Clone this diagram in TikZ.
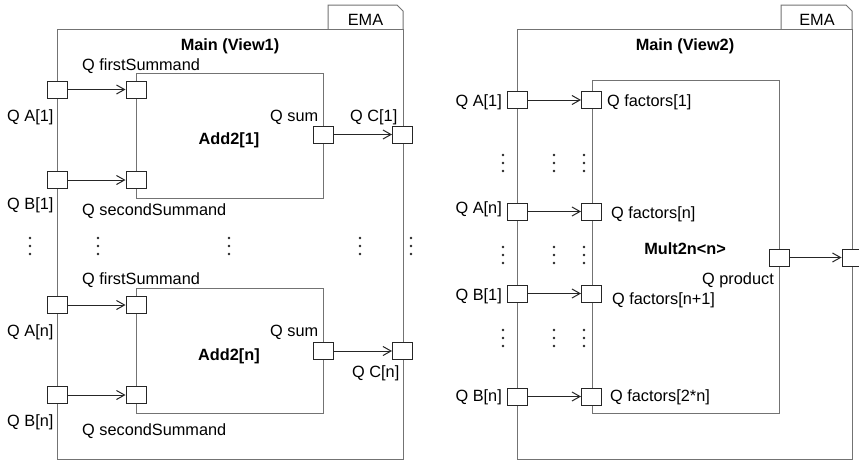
\documentclass[tikz,border=0pt]{standalone}
\usepackage{fontspec}
\setmainfont{Liberation Sans}
\usetikzlibrary{arrows.meta}
\tikzset{
  frameline/.style={draw=black!55, line width=1pt},
  blockbox/.style={draw=black!55, line width=1pt, fill=none, inner sep=0pt},
  port/.style={draw=black!85, fill=white, line width=1pt, minimum width=20pt, minimum height=17pt, inner sep=0pt},
  lbl/.style={font=\fontsize{16.3}{19}\selectfont, inner sep=0pt, text=black},
  blbl/.style={font=\fontsize{16.3}{19}\selectfont\bfseries, inner sep=0pt, text=black},
  arr/.style={draw=black!85, line width=1pt, -{Straight Barb[length=8pt,width=9pt,line width=1pt]}},
  vd/.pic={\fill[black!85] (0,-8) circle (1.3pt) (0,0) circle (1.3pt) (0,8) circle (1.3pt);}
}
\begin{document}
\begin{tikzpicture}[x=1pt,y=-1pt]
\useasboundingbox (0,0) rectangle (859,463);
\fill[white] (0,0) rectangle (859,463);
% ---------- left panel ----------
\node[blockbox, minimum width=346pt, minimum height=430pt] (frameL) at (230,244) {};
\draw[frameline] (328,29) -- (328,5) -- (397,5) -- (403,11) -- (403,29);
\node[lbl, anchor=base] (emaL) at (365.5,25) {EMA};
\node[blbl, anchor=base] (mainL) at (230,50) {Main (View1)};
\node[blockbox, minimum width=187pt, minimum height=125pt] (add1) at (229.5,135.5) {};
\node[blockbox, minimum width=187pt, minimum height=125pt] (addn) at (229.5,350.5) {};
\node[blbl, anchor=base] (add1t) at (229,144) {Add2[1]};
\node[blbl, anchor=base] (addnt) at (229,360) {Add2[n]};
% ports
\node[port] (pA1) at (57,89.5) {};
\node[port] (pF1) at (136,89.5) {};
\node[port] (pB1) at (57,180) {};
\node[port] (pS1) at (136,180) {};
\node[port] (pSum1) at (323.5,134.5) {};
\node[port] (pC1) at (402.5,134.5) {};
\node[port] (pAn) at (57,305) {};
\node[port] (pFn) at (136,305) {};
\node[port] (pBn) at (57,395) {};
\node[port] (pSn) at (136,395) {};
\node[port] (pSumn) at (323.5,351) {};
\node[port] (pCn) at (402.5,351) {};
\draw[arr] (pA1.east) -- (pF1.west);
\draw[arr] (pB1.east) -- (pS1.west);
\draw[arr] (pSum1.east) -- (pC1.west);
\draw[arr] (pAn.east) -- (pFn.west);
\draw[arr] (pBn.east) -- (pSn.west);
\draw[arr] (pSumn.east) -- (pCn.west);
% labels
\node[lbl, anchor=base west] (fsL1) at (82,70) {Q firstSummand};
\node[lbl, anchor=base west] (aL1) at (7,121) {Q A[1]};
\node[lbl, anchor=base west] (sumL1) at (270,121) {Q sum};
\node[lbl, anchor=base west] (cL1) at (350,121) {Q C[1]};
\node[lbl, anchor=base west] (bL1) at (7,209) {Q B[1]};
\node[lbl, anchor=base west] (ssL1) at (82,215) {Q secondSummand};
\node[lbl, anchor=base west] (fsLn) at (82,284) {Q firstSummand};
\node[lbl, anchor=base west] (aLn) at (7,336) {Q A[n]};
\node[lbl, anchor=base west] (sumLn) at (270,336) {Q sum};
\node[lbl, anchor=base west] (cLn) at (352,377) {Q C[n]};
\node[lbl, anchor=base west] (bLn) at (7,426) {Q B[n]};
\node[lbl, anchor=base west] (ssLn) at (82,435) {Q secondSummand};
% dots
\foreach \x in {30,98,229,360,411} \pic at (\x,246) {vd};
% ---------- right panel ----------
\node[blockbox, minimum width=335pt, minimum height=430pt] (frameR) at (684.5,244) {};
\draw[frameline] (781,29) -- (781,5) -- (846,5) -- (852,11) -- (852,29);
\node[lbl, anchor=base] (emaR) at (817,25) {EMA};
\node[blbl, anchor=base] (mainR) at (685,50) {Main (View2)};
\node[blockbox, minimum width=187pt, minimum height=333pt] (mult) at (685.5,246.5) {};
\node[blbl, anchor=base] (multt) at (685,254) {Mult2n<n>};
\node[port] (qA1) at (517.5,100) {};
\node[port] (qF1) at (591.5,100) {};
\node[port] (qAn) at (517.5,211.5) {};
\node[port] (qFn) at (591.5,211.5) {};
\node[port] (qB1) at (517.5,293.5) {};
\node[port] (qFn1) at (591.5,293.5) {};
\node[port] (qBn) at (517.5,396.5) {};
\node[port] (qF2n) at (591.5,396.5) {};
\node[port] (qP) at (779,257.5) {};
\node[port] (qOut) at (852,257.5) {};
\draw[arr] (qA1.east) -- (qF1.west);
\draw[arr] (qAn.east) -- (qFn.west);
\draw[arr] (qB1.east) -- (qFn1.west);
\draw[arr] (qBn.east) -- (qF2n.west);
\draw[arr] (qP.east) -- (qOut.west);
\node[lbl, anchor=base east] (aR1) at (502,106) {Q A[1]};
\node[lbl, anchor=base west] (fR1) at (607,106) {Q factors[1]};
\node[lbl, anchor=base east] (aRn) at (502,213) {Q A[n]};
\node[lbl, anchor=base west] (fRn) at (611,218) {Q factors[n]};
\node[lbl, anchor=base east] (bR1) at (502,300) {Q B[1]};
\node[lbl, anchor=base west] (fRn1) at (612,304) {Q factors[n+1]};
\node[lbl, anchor=base east] (bRn) at (502,401) {Q B[n]};
\node[lbl, anchor=base west] (fR2n) at (610,401) {Q factors[2*n]};
\node[lbl, anchor=base east] (prod) at (774,284) {Q product};
\foreach \y in {163,255,338} {
  \foreach \x in {503,554,584} \pic at (\x,\y) {vd};
}
\end{tikzpicture}
\end{document}
